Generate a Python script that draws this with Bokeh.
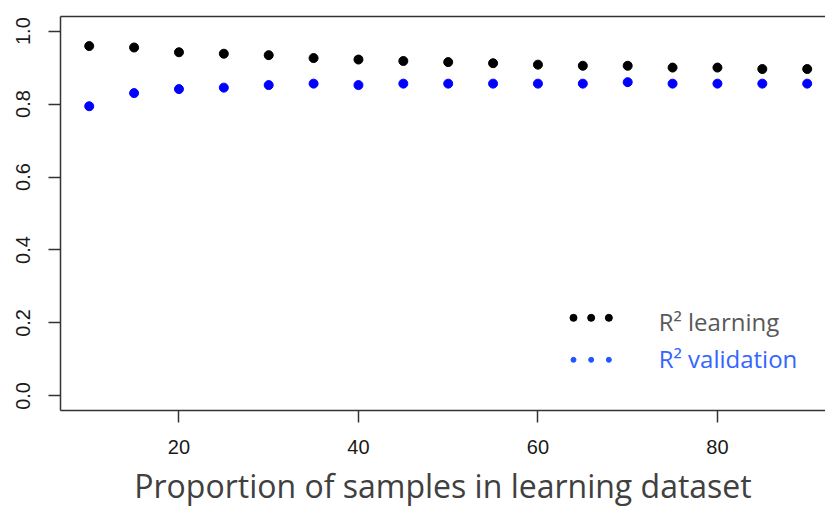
from bokeh.plotting import figure
from bokeh.models import Label, FixedTicker, NumeralTickFormatter, LinearAxis, Range1d
from bokeh.embed import file_html
from bokeh.resources import INLINE

# ---- data ----
proportion = [10, 15, 20, 25, 30, 35, 40, 45, 50, 55, 60, 65, 70, 75, 80, 85, 90]
r2_learning = [0.959, 0.955, 0.942, 0.938, 0.934, 0.926, 0.922, 0.918, 0.915,
               0.912, 0.908, 0.905, 0.905, 0.900, 0.900, 0.896, 0.896]
r2_validation = [0.794, 0.830, 0.841, 0.845, 0.852, 0.856, 0.852, 0.856, 0.856,
                 0.856, 0.856, 0.856, 0.860, 0.856, 0.856, 0.856, 0.856]
x_ticks = [20, 40, 60, 80]
y_ticks = [0.0, 0.2, 0.4, 0.6, 0.8, 1.0]
x_label = "Proportion of samples in learning dataset"
legend_labels = ["R\u00b2 learning", "R\u00b2 validation"]

AX = "#333333"
TICK_FONT = "Liberation Sans"
TXT_FONT = "Open Sans"

p = figure(width=825, height=510, output_backend="svg", toolbar_location=None,
           x_range=Range1d(6.8, 92.04), y_range=Range1d(-0.04, 1.04),
           min_border_left=60, min_border_right=0, min_border_top=16,
           min_border_bottom=100, background_fill_color="white",
           border_fill_color="white")
p.outline_line_color = None
p.xgrid.visible = False
p.ygrid.visible = False

for ax in (p.xaxis[0], p.yaxis[0]):
    ax.axis_line_color = AX
    ax.axis_line_width = 1.5
    ax.major_tick_line_color = AX
    ax.major_tick_line_width = 1.5
    ax.major_tick_out = 12
    ax.major_tick_in = 0
    ax.minor_tick_line_color = None
    ax.major_label_text_font = TICK_FONT
    ax.major_label_text_font_size = "20px"
    ax.major_label_text_color = "#1a1a1a"

xa = p.xaxis[0]
xa.ticker = FixedTicker(ticks=x_ticks)
xa.major_label_standoff = 17
xa.axis_label = x_label
xa.axis_label_text_font = TXT_FONT
xa.axis_label_text_font_size = "32px"
xa.axis_label_text_font_style = "normal"
xa.axis_label_text_color = "#404040"
xa.axis_label_standoff = 7

ya = p.yaxis[0]
ya.ticker = FixedTicker(ticks=y_ticks)
ya.formatter = NumeralTickFormatter(format="0.0")
ya.major_label_orientation = "vertical"
ya.major_label_standoff = 18

top_axis = LinearAxis(ticker=FixedTicker(ticks=[]), major_label_text_font_size="0px",
                      major_tick_out=0, major_tick_in=0, major_label_standoff=0,
                      axis_line_color=AX, axis_line_width=1.5,
                      minor_tick_line_color=None)
p.add_layout(top_axis, "above")

# data points
p.scatter(proportion, r2_learning, size=9, color="black")
p.scatter(proportion, r2_validation, size=9, color="#0000ff")

# legend (drawn manually, R style)
leg_x = [63.96, 65.93, 67.9]
p.scatter(leg_x, [0.214] * 3, size=7, color="black")
p.scatter(leg_x, [0.099] * 3, size=5, color="#2255ff")
p.add_layout(Label(x=73.45, y=0.203, text=legend_labels[0], text_font=TXT_FONT,
                   text_font_size="24px", text_color="#595959",
                   text_baseline="alphabetic", text_align="left"))
p.add_layout(Label(x=73.45, y=0.1015, text=legend_labels[1], text_font=TXT_FONT,
                   text_font_size="24px", text_color="#3366ff",
                   text_baseline="alphabetic", text_align="left"))

open("out.html", "w").write(file_html(p, INLINE))
